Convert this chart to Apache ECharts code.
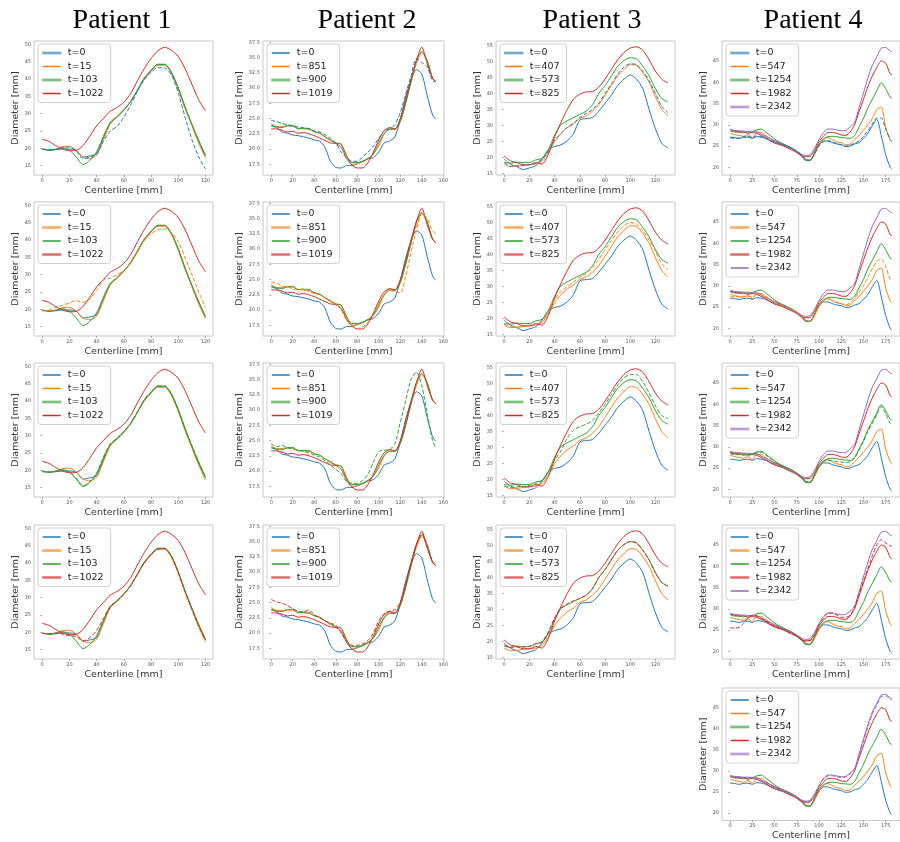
<!DOCTYPE html>
<html><head><meta charset="utf-8">
<script src="https://cdn.jsdelivr.net/npm/echarts/dist/echarts.min.js"></script>
<style>html,body{margin:0;padding:0;background:#fff}#c{width:900px;height:842px}</style>
</head><body><div id="c"></div>
<script>
// ---------- DATA ----------
const patientTitles = ['Patient 1', 'Patient 2', 'Patient 3', 'Patient 4'];

const p1Names = ['t=0', 't=15', 't=103', 't=1022'];
const p2Names = ['t=0', 't=851', 't=900', 't=1019'];
const p3Names = ['t=0', 't=407', 't=573', 't=825'];
const p4Names = ['t=0', 't=547', 't=1254', 't=1982', 't=2342'];

const p1XTicks = [0, 20, 40, 60, 80, 100, 120];
const p1YTicks = [15, 20, 25, 30, 35, 40, 45, 50];
const p2XTicks = [0, 20, 40, 60, 80, 100, 120, 140, 160];
const p2YTicks = [17.5, 20, 22.5, 25, 27.5, 30, 32.5, 35, 37.5];
const p3XTicks = [0, 20, 40, 60, 80, 100, 120];
const p3YTicks = [15, 20, 25, 30, 35, 40, 45, 50, 55];
const p4XTicks = [0, 25, 50, 75, 100, 125, 150, 175];
const p4YTicks = [20, 25, 30, 35, 40, 45];

// Patient 1
const p1X = [0,5,10,15,20,25,30,35,40,45,50,55,60,65,70,75,80,85,90,95,100,105,110,115,120];
const p1T0    = [19.8,19.5,19.6,19.8,19.8,19.5,17.5,17.8,18.5,23.0,27.3,29.0,31.0,33.5,36.8,40.2,42.5,44.2,44.2,41.8,37.3,31.8,26.8,22.0,17.8];
const p1T15   = [19.7,19.6,19.8,20.5,20.6,19.5,17.5,17.0,18.0,22.5,27.0,29.0,31.0,33.5,36.8,40.0,42.3,44.0,44.0,41.6,37.0,31.5,26.5,21.5,17.2];
const p1T103  = [19.8,19.4,19.7,20.2,19.5,17.5,15.3,16.5,19.0,23.5,27.5,29.2,31.2,33.5,36.8,40.3,42.5,44.3,44.3,42.0,37.5,32.0,27.0,22.3,18.0];
const p1T1022 = [22.6,22.0,20.8,19.8,19.3,19.4,20.8,23.5,26.5,28.6,30.7,31.8,33.3,35.8,39.5,43.0,46.0,48.2,49.2,48.3,46.5,43.0,38.5,34.0,30.8];
const p1PredT0    = [19.8,19.6,19.7,20.3,20.4,19.2,17.0,17.5,18.3,22.0,25.0,26.3,29.0,32.5,36.5,39.8,42.0,43.3,43.2,41.2,36.0,29.0,22.5,17.5,14.0];
const p1PredT15   = [19.5,19.8,20.5,21.2,21.8,22.5,22.0,23.0,25.5,28.5,29.0,30.0,31.2,33.3,36.5,39.8,41.8,43.0,43.3,42.2,39.5,35.0,30.0,25.0,20.5];
const p1PredT103  = [19.6,19.5,19.8,20.0,19.6,17.8,15.5,16.8,19.2,23.8,27.6,29.3,31.3,33.6,36.9,40.4,42.7,44.4,44.4,42.1,37.6,32.1,27.1,22.4,18.1];
const p1PredT1022 = [19.7,19.6,19.8,19.5,19.0,18.8,17.5,18.5,20.5,24.0,27.5,29.0,31.0,33.5,36.8,40.0,42.5,44.0,44.2,42.0,37.3,31.8,26.8,22.0,17.8];

// Patient 2
const p2X = [0,5,10,15,20,25,30,35,40,45,50,55,60,65,70,75,80,85,90,95,100,105,110,115,120,125,130,135,140,145,150,153];
const p2T0    = [23.8,23.5,22.8,22.6,22.3,22.2,22.0,21.8,21.5,21.3,20.3,18.0,17.0,16.9,17.3,17.3,17.6,18.0,18.4,18.6,19.5,21.0,21.3,22.0,24.8,28.5,31.3,33.0,32.3,28.8,25.6,24.9];
const p2T851  = [24.2,23.7,23.7,23.8,23.7,23.4,23.3,23.2,22.9,22.6,22.0,21.6,21.0,20.8,19.0,17.5,17.6,17.9,18.4,19.2,20.5,22.5,23.5,23.3,24.5,27.5,31.0,34.0,35.8,34.5,31.6,31.1];
const p2T900  = [23.9,23.6,23.5,23.8,23.9,23.3,23.4,23.4,22.8,22.6,22.0,21.4,21.0,20.8,18.9,17.8,17.8,18.0,18.5,19.2,21.0,22.5,23.2,23.2,24.5,27.5,31.0,34.5,36.0,34.5,31.6,31.1];
const p2T1019 = [23.3,23.3,23.1,22.8,22.9,22.6,22.7,22.5,22.2,21.8,21.4,21.0,20.9,20.3,18.5,17.4,16.9,16.9,17.8,19.5,21.5,23.0,23.5,23.3,25.0,28.0,31.5,34.5,36.7,34.0,31.6,31.0];
const p2PredT0    = [24.7,24.5,24.2,24.0,23.8,23.6,23.5,23.3,23.0,22.8,22.3,21.8,21.0,19.5,18.6,18.0,18.0,18.7,19.5,20.5,21.8,23.0,23.3,24.0,26.0,29.0,32.0,34.8,34.2,33.5,31.2,31.0];
const p2PredT851  = [24.6,24.4,23.9,23.8,23.5,23.3,23.5,23.0,22.7,22.5,22.0,21.5,21.0,20.0,18.3,17.5,17.0,17.2,18.0,19.0,20.8,22.5,23.3,23.0,22.8,25.5,29.5,33.0,35.8,35.0,33.0,32.5];
const p2PredT900  = [24.5,24.0,24.2,23.8,23.6,23.4,23.2,23.0,22.6,22.3,21.7,21.0,20.3,19.5,18.3,18.0,18.0,18.5,19.5,21.5,23.2,23.4,23.5,24.5,28.0,31.5,35.0,36.2,34.0,29.5,25.0,23.8];
const p2PredT1019 = [25.5,25.1,24.9,24.5,24.0,23.6,23.5,23.8,23.0,22.5,22.0,21.6,21.3,20.0,18.7,18.0,18.0,18.2,18.8,20.0,22.0,23.2,23.6,23.8,25.0,28.0,31.5,34.5,36.3,34.0,31.6,31.0];

// Patient 3
const p3X = [0,5,10,15,20,25,30,35,40,45,50,55,60,65,70,75,80,85,90,95,100,105,110,115,120,125,130];
const p3T0   = [19.5,18.0,17.2,16.3,16.8,17.5,19.5,22.5,23.5,24.0,25.3,27.5,31.8,32.2,32.5,34.5,37.0,39.5,42.5,44.5,45.8,44.5,41.5,35.0,29.0,24.5,23.0];
const p3T407 = [18.0,17.2,17.3,17.6,17.8,18.0,18.8,21.5,25.0,27.5,29.3,30.5,32.3,33.0,34.5,36.5,39.5,42.5,45.5,47.5,49.0,48.8,46.5,43.5,39.0,35.0,33.0];
const p3T573 = [18.5,18.3,18.6,18.5,18.5,19.3,19.8,22.5,27.0,30.3,31.5,32.5,33.5,34.5,36.5,40.0,42.5,45.5,48.5,50.3,51.2,50.8,48.5,45.5,41.5,38.5,37.3];
const p3T825 = [20.5,19.0,18.5,17.8,17.8,18.5,18.0,21.0,26.5,31.0,35.0,38.3,39.8,40.5,40.6,42.0,44.5,47.5,50.5,52.8,54.2,54.6,53.5,50.5,47.0,44.5,43.3];
const p3PredT0   = [18.5,17.3,17.5,17.6,17.8,18.3,19.5,22.0,25.5,27.5,29.5,30.8,32.5,33.8,35.0,37.0,40.0,43.0,46.0,48.3,49.3,49.0,47.0,44.0,40.0,36.0,34.0];
const p3PredT407 = [18.3,17.5,17.4,17.7,18.0,18.4,19.2,22.0,26.0,28.5,30.0,31.5,33.0,34.0,35.8,38.5,41.5,44.3,47.0,49.0,50.0,49.5,47.5,44.5,41.0,37.0,35.3];
const p3PredT573 = [18.0,17.6,17.8,17.9,18.2,18.8,19.5,22.5,26.0,29.0,33.0,35.5,36.5,37.3,38.5,40.8,43.5,46.5,49.5,51.8,52.8,52.8,50.5,47.0,43.0,40.0,39.0];
const p3PredT825 = [19.0,18.2,18.4,18.3,18.6,19.4,20.0,23.0,27.5,30.5,31.8,32.8,33.5,34.5,36.5,40.0,42.5,45.5,48.5,50.3,51.3,50.8,48.5,45.5,41.5,38.5,37.3];

// Patient 4
const p4X = [0,5,10,15,20,25,30,35,40,45,50,55,60,65,70,75,80,85,90,95,100,105,110,115,120,125,130,135,140,145,150,155,160,165,170,175,180,182];
const p4T0    = [27.1,27.0,26.8,27.0,27.1,26.8,27.2,27.1,26.8,26.3,26.0,25.5,25.2,24.8,24.3,23.6,22.8,21.6,21.7,23.3,25.2,26.2,26.2,25.8,25.5,25.3,24.9,25.0,25.5,25.8,26.8,28.0,29.8,31.3,27.5,23.0,20.0,19.6];
const p4T547  = [28.0,27.7,27.5,27.3,27.7,27.0,28.2,28.2,27.5,26.8,26.2,25.7,25.4,25.0,24.4,23.8,23.0,22.0,21.6,23.0,25.2,26.5,27.0,26.5,26.0,25.8,25.3,25.5,26.5,27.5,28.7,30.0,31.5,33.6,34.2,29.5,26.5,26.0];
const p4T1254 = [28.6,28.3,28.3,28.1,28.3,28.4,28.8,29.0,28.3,27.5,26.7,26.0,25.5,25.0,24.5,23.8,23.0,21.8,21.6,23.5,25.5,26.7,27.2,27.3,27.2,27.0,26.9,26.8,27.5,29.5,31.5,34.0,36.0,38.0,39.9,38.5,36.5,36.3];
const p4T1982 = [28.8,28.5,28.3,28.4,28.0,28.2,28.0,27.5,27.0,26.3,25.7,25.4,25.0,24.5,24.0,23.5,22.7,22.5,22.6,24.0,26.0,27.3,28.2,28.2,28.0,27.6,27.5,28.3,30.0,33.0,36.0,39.0,41.5,43.5,45.0,44.5,42.0,41.8];
const p4T2342 = [28.9,28.7,28.6,28.5,28.5,28.3,28.4,27.8,27.3,26.8,26.3,25.8,25.3,24.8,24.3,23.8,23.1,22.8,23.0,24.5,26.5,28.2,29.0,29.0,28.8,28.6,28.7,29.5,30.5,34.0,37.5,41.0,44.0,46.0,48.0,48.2,47.3,47.2];
const p4PredT0    = [26.9,26.8,26.9,27.2,27.3,27.0,27.4,27.2,26.9,26.4,26.0,25.6,25.3,24.9,24.4,23.7,22.9,21.8,21.7,23.2,25.0,26.0,26.3,26.0,25.6,25.3,25.0,25.2,25.7,26.2,27.3,28.6,30.2,31.6,31.6,29.0,26.5,26.0];
const p4PredT547  = [27.3,27.5,27.4,27.5,27.6,27.3,28.0,28.0,27.3,26.7,26.1,25.6,25.3,24.9,24.3,23.7,22.9,21.9,21.7,23.2,25.3,26.6,27.0,26.6,26.1,25.8,25.5,26.0,27.0,28.5,30.0,32.0,34.0,35.8,36.3,34.5,31.5,31.0];
const p4PredT1254 = [28.4,28.2,28.2,28.0,28.2,28.2,28.6,28.7,28.1,27.3,26.6,25.9,25.4,24.9,24.4,23.7,22.9,21.8,21.6,23.3,25.3,26.5,26.8,26.7,26.5,26.4,26.3,26.5,27.3,29.2,31.2,33.6,35.5,37.5,39.5,37.8,35.5,35.0];
const p4PredT1982 = [25.5,25.5,25.6,26.5,27.8,28.5,28.3,27.8,27.2,26.5,25.9,25.5,25.1,24.6,24.1,23.6,22.8,22.4,22.5,24.0,26.2,27.8,29.0,29.0,28.5,28.0,28.0,28.5,30.5,33.5,36.5,39.5,42.5,45.0,46.2,45.5,44.8,44.7];
const p4PredT2342 = [28.7,28.6,28.5,28.4,28.4,28.2,28.2,27.7,27.2,26.7,26.2,25.7,25.2,24.7,24.2,23.7,23.0,22.7,22.9,24.4,26.4,28.0,28.8,28.8,28.6,28.4,28.5,29.3,30.3,33.6,37.0,40.5,43.5,45.6,47.6,47.8,47.0,46.9];

// ---------- ASSEMBLY ----------
const patients = [
  {x: p1X, names: p1Names, solid: [p1T0, p1T15, p1T103, p1T1022], preds: [p1PredT0, p1PredT15, p1PredT103, p1PredT1022], xt: p1XTicks, yt: p1YTicks},
  {x: p2X, names: p2Names, solid: [p2T0, p2T851, p2T900, p2T1019], preds: [p2PredT0, p2PredT851, p2PredT900, p2PredT1019], xt: p2XTicks, yt: p2YTicks},
  {x: p3X, names: p3Names, solid: [p3T0, p3T407, p3T573, p3T825], preds: [p3PredT0, p3PredT407, p3PredT573, p3PredT825], xt: p3XTicks, yt: p3YTicks},
  {x: p4X, names: p4Names, solid: [p4T0, p4T547, p4T1254, p4T1982, p4T2342], preds: [p4PredT0, p4PredT547, p4PredT1254, p4PredT1982, p4PredT2342], xt: p4XTicks, yt: p4YTicks}
];

// layout / style (kept separate from data)
const colors = ['#1f77b4', '#ff7f0e', '#2ca02c', '#d62728', '#9467bd'];
const layout = [
  {left: 34,  width: 179, titleX: 117, yGap: 11, xMin: -6,    xMax: 125.5,  yMin: 12.3,  yMax: 51.0, dec: 0},
  {left: 263, width: 181, titleX: 362, yGap: 15, xMin: -7.65, xMax: 160.65, yMin: 15.75, yMax: 37.7, dec: 1},
  {left: 496, width: 179, titleX: 587, yGap: 11, xMin: -6.5,  xMax: 135.5,  yMin: 14.6,  yMax: 56.4, dec: 0},
  {left: 722, width: 180, titleX: 808, yGap: 11, xMin: -9.1,  xMax: 191.1,  yMin: 18.2,  yMax: 49.7, dec: 0}
];
const rowTops = [41, 202, 363, 525, 688];
const rowH = 134;
const fadedByRow = [[0, 2, 4], [1, 3], [2, 4], [1, 3], [2, 4]];

const option = {
  backgroundColor: '#fff',
  animation: false,
  title: [], grid: [], xAxis: [], yAxis: [], series: [], legend: []
};

patientTitles.forEach((t, c) => {
  option.title.push({
    text: t, left: layout[c].titleX, top: 2, textAlign: 'center',
    textStyle: {fontFamily: 'Liberation Serif', fontWeight: 'normal', fontSize: 28, color: '#000'}
  });
});

let gi = 0;
patients.forEach((p, c) => {
  const L = layout[c];
  const nRows = p.preds.length;
  for (let r = 0; r < nRows; r++) {
    const top = rowTops[r];
    option.grid.push({left: L.left, top: top, width: L.width, height: rowH, show: true,
      borderColor: '#c8c8c8', borderWidth: 1, backgroundColor: 'transparent'});
    option.xAxis.push({
      gridIndex: gi, type: 'value', min: L.xMin, max: L.xMax,
      axisLine: {show: false}, splitLine: {show: false},
      axisTick: {show: true, length: 2, lineStyle: {color: '#777', width: 0.6}, customValues: p.xt},
      axisLabel: {fontSize: 5, color: '#555', margin: 3, interval: 0, hideOverlap: false,
        customValues: p.xt, fontFamily: 'DejaVu Sans'},
      name: 'Centerline [mm]', nameLocation: 'middle', nameGap: 10.5,
      nameTextStyle: {fontSize: 9.5, color: '#333', fontFamily: 'DejaVu Sans'}
    });
    option.yAxis.push({
      gridIndex: gi, type: 'value', min: L.yMin, max: L.yMax,
      axisLine: {show: false}, splitLine: {show: false},
      axisTick: {show: true, length: 2, lineStyle: {color: '#777', width: 0.6}, customValues: p.yt},
      axisLabel: {fontSize: 5, color: '#555', margin: 3, interval: 0, hideOverlap: false,
        customValues: p.yt, fontFamily: 'DejaVu Sans',
        formatter: (v) => Number(v).toFixed(L.dec)},
      name: 'Diameter [mm]', nameLocation: 'middle', nameGap: L.yGap,
      nameTextStyle: {fontSize: 9.5, color: '#333', fontFamily: 'DejaVu Sans'}
    });
    p.solid.forEach((arr, k) => {
      option.series.push({
        type: 'line', name: p.names[k], xAxisIndex: gi, yAxisIndex: gi,
        data: p.x.map((xv, i) => [xv, arr[i]]),
        symbol: 'none', smooth: 0.25, lineStyle: {color: colors[k], width: 1}, itemStyle: {color: colors[k]}
      });
    });
    option.series.push({
      type: 'line', name: 'pred ' + p.names[r], xAxisIndex: gi, yAxisIndex: gi,
      data: p.x.map((xv, i) => [xv, p.preds[r][i]]),
      symbol: 'none', smooth: 0.25, lineStyle: {color: colors[r], width: 1, type: [4, 2]}, itemStyle: {color: colors[r]}
    });
    const faded = (c === 1 && r === 0) ? [2] : fadedByRow[r];
    option.legend.push({
      orient: 'vertical', left: L.left + 4, top: top + 3,
      padding: [4, 7, 4, 4], itemGap: 3.5, itemWidth: 18, itemHeight: 1.5, icon: 'rect',
      backgroundColor: 'rgba(255,255,255,0.85)', borderColor: '#d0d0d0', borderWidth: 1, borderRadius: 3,
      selectedMode: false,
      textStyle: {fontSize: 9.5, color: '#222', fontFamily: 'DejaVu Sans', padding: [0, 0, 0, 2]},
      data: p.names.map((n, k) => ({
        name: n,
        itemStyle: faded.includes(k)
          ? {color: colors[k], borderColor: colors[k], borderWidth: 1.5, opacity: 0.45}
          : {color: colors[k], borderColor: colors[k], borderWidth: 0, opacity: 1}
      }))
    });
    gi++;
  }
});

const chart = echarts.init(document.getElementById('c'), null, {renderer: 'canvas'});
chart.setOption(option);
</script>
</body></html>
